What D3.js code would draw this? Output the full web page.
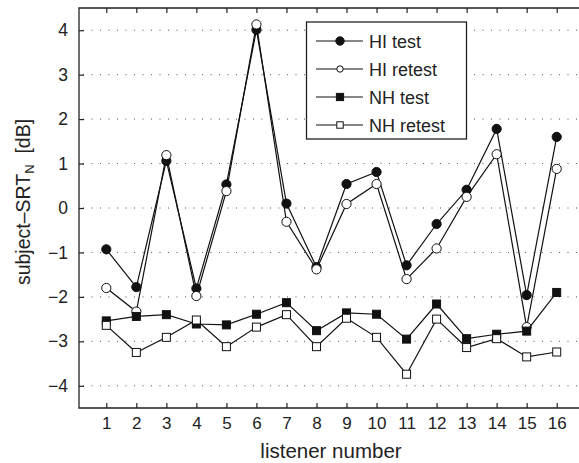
<!DOCTYPE html>
<html>
<head>
<meta charset="utf-8">
<script src="https://cdn.jsdelivr.net/npm/d3@7"></script>
<style>
  body { margin: 0; background: #fff; }
  text { font-family: "Liberation Sans", Arial, Helvetica, sans-serif; fill: #222; }
</style>
</head>
<body>
<svg id="chart" width="579" height="463"></svg>
<script>
const listeners = d3.range(1, 17);
const yTicks = [-4, -3, -2, -1, 0, 1, 2, 3, 4];

const hiTest   = [-0.93, -1.78, 1.06, -1.81, 0.53, 4.01, 0.10, -1.33, 0.54, 0.81, -1.29, -0.36, 0.41, 1.78, -1.96, 1.60];
const hiRetest = [-1.80, -2.33, 1.19, -1.98, 0.38, 4.13, -0.31, -1.38, 0.09, 0.54, -1.60, -0.91, 0.25, 1.21, -2.68, 0.88];
const nhTest   = [-2.54, -2.44, -2.40, -2.61, -2.63, -2.39, -2.13, -2.76, -2.36, -2.39, -2.95, -2.16, -2.94, -2.84, -2.77, -1.90];
const nhRetest = [-2.64, -3.25, -2.91, -2.52, -3.12, -2.68, -2.40, -3.12, -2.48, -2.91, -3.74, -2.50, -3.14, -2.94, -3.35, -3.24];

const series = [
  { name: "HI test",   values: hiTest,   shape: "circle", fill: "#111" },
  { name: "HI retest", values: hiRetest, shape: "circle", fill: "#fff" },
  { name: "NH test",   values: nhTest,   shape: "square", fill: "#111" },
  { name: "NH retest", values: nhRetest, shape: "square", fill: "#fff" }
];

const svg = d3.select("#chart");
const plotLeft = 79, plotTop = 8, plotBottom = 408, plotRight = 600;

// x: 1 -> 106.3, 16 -> 556.7
const x = d3.scaleLinear().domain([1, 16]).range([106.3, 556.7]);
const y = d3.scaleLinear().domain([-4.5, 4.5]).range([plotBottom, plotTop]);

// dotted grid
svg.append("g")
  .selectAll("line")
  .data(yTicks)
  .join("line")
  .attr("x1", plotLeft + 4).attr("x2", plotRight)
  .attr("y1", d => y(d)).attr("y2", d => y(d))
  .attr("stroke", "#555")
  .attr("stroke-width", 1)
  .attr("stroke-dasharray", "1,7.5");

// frame
svg.append("path")
  .attr("d", `M${plotRight},${plotTop}H${plotLeft}V${plotBottom}H${plotRight}`)
  .attr("fill", "none")
  .attr("stroke", "#222")
  .attr("stroke-width", 1.3);

// inward ticks, bottom and top
svg.append("g")
  .attr("transform", `translate(0,${plotBottom})`)
  .call(d3.axisBottom(x).tickValues(listeners).tickSize(-5).tickPadding(9).tickFormat(d3.format("d")))
  .call(g => g.select(".domain").remove())
  .call(g => g.selectAll("line").attr("stroke", "#222").attr("stroke-width", 1.2))
  .call(g => g.selectAll("text").style("font-size", "17px").attr("fill", "#222"));

svg.append("g")
  .attr("transform", `translate(0,${plotTop})`)
  .call(d3.axisTop(x).tickValues(listeners).tickSize(-5).tickFormat(""))
  .call(g => g.select(".domain").remove())
  .call(g => g.selectAll("line").attr("stroke", "#222").attr("stroke-width", 1.2));

svg.append("g")
  .attr("transform", `translate(${plotLeft},0)`)
  .call(d3.axisLeft(y).tickValues(yTicks).tickSize(-5).tickPadding(11))
  .call(g => g.select(".domain").remove())
  .call(g => g.selectAll("line").attr("stroke", "#222").attr("stroke-width", 1.2))
  .call(g => g.selectAll("text").style("font-size", "17.5px").attr("fill", "#222"));

// axis labels
svg.append("text")
  .attr("x", 331).attr("y", 458)
  .attr("text-anchor", "middle")
  .style("font-size", "20.5px")
  .text("listener number");

const yl = svg.append("text")
  .attr("transform", "translate(30,202) rotate(-90)")
  .attr("text-anchor", "middle")
  .style("font-size", "19.5px");
yl.append("tspan").text("subject–SRT");
yl.append("tspan").attr("baseline-shift", "-30%").style("font-size", "13px").text("N");
yl.append("tspan").text("\u00a0\u00a0[dB]");

// series
const line = d3.line().x((d, i) => x(listeners[i])).y(d => y(d));

function marker(g, shape, fill, r) {
  if (shape === "circle") {
    g.append("circle").attr("r", r).attr("fill", fill).attr("stroke", "#111").attr("stroke-width", 1);
  } else {
    g.append("rect").attr("x", -r).attr("y", -r).attr("width", 2 * r).attr("height", 2 * r)
      .attr("fill", fill).attr("stroke", "#111").attr("stroke-width", 1);
  }
}

series.forEach(s => {
  svg.append("path")
    .attr("d", line(s.values))
    .attr("fill", "none")
    .attr("stroke", "#111")
    .attr("stroke-width", 1.2);
  s.values.forEach((v, i) => {
    const g = svg.append("g").attr("transform", `translate(${x(listeners[i])},${y(v)})`);
    marker(g, s.shape, s.fill, s.shape === "circle" ? 4.6 : 4);
  });
});

// legend
const lg = svg.append("g");
lg.append("rect")
  .attr("x", 306.5).attr("y", 22)
  .attr("width", 160).attr("height", 117)
  .attr("fill", "#fff")
  .attr("stroke", "#222")
  .attr("stroke-width", 1.3);

series.forEach((s, i) => {
  const cy = 41 + i * 28;
  lg.append("line")
    .attr("x1", 316).attr("x2", 363)
    .attr("y1", cy).attr("y2", cy)
    .attr("stroke", "#111").attr("stroke-width", 1.1);
  const g = lg.append("g").attr("transform", `translate(340,${cy})`);
  const r = s.fill === "#fff" ? 3.2 : (s.shape === "circle" ? 4.2 : 3.6);
  marker(g, s.shape, s.fill, r);
  lg.append("text")
    .attr("x", 369).attr("y", cy + 6.5)
    .style("font-size", "18px")
    .text(s.name);
});
</script>
</body>
</html>
